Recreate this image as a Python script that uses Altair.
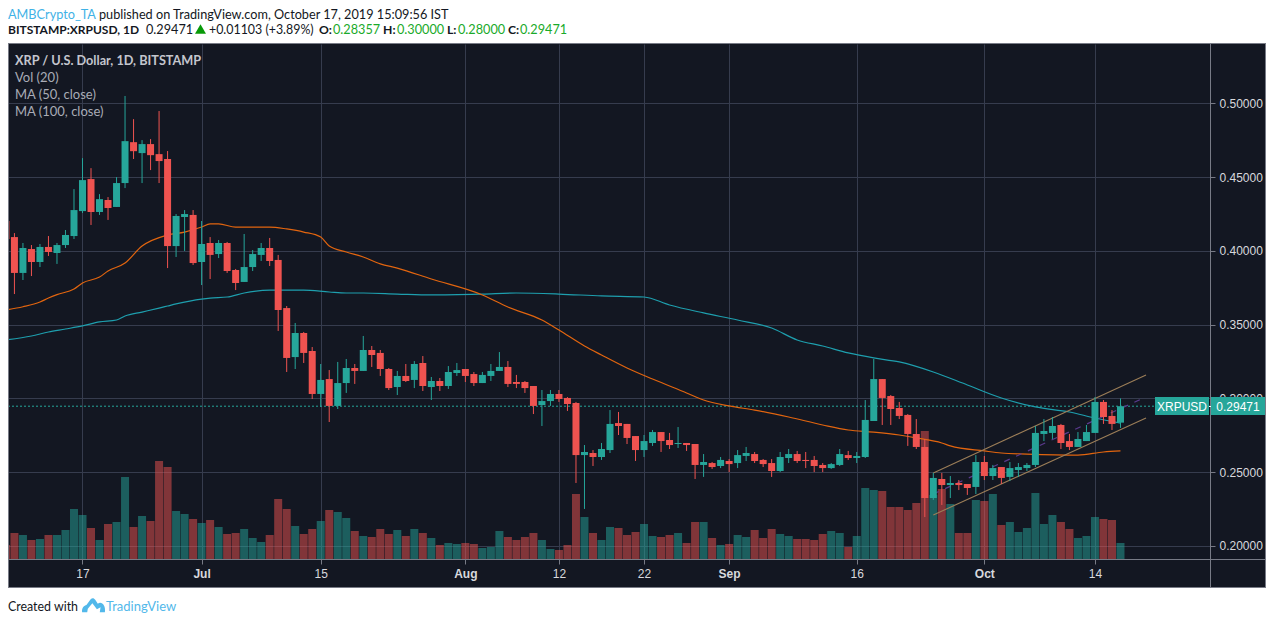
import altair as alt
import pandas as pd

# ---------- candle data, Jun 8 .. Oct 17 2019 ----------
start_date = "2019-06-08"
opens = [.4202,.4093,.3850,.4012,.3924,.4026,.3985,.4039,.4100,.4269,.4486,.4263,.4344,.4297,.4459,.4736,.4662,.4723,.4655,.4622,.4032,.4229,.4243,
 .3924,.4053,.3978,.4053,.3870,.3789,.3890,.3972,.4019,.3938,.3612,.3280,.3443,.3321,.3030,.3131,.2949,.3104,.3206,.3186,.3328,.3308,.3199,.3077,.3152,.3125,.3240,.3077,.3118,.3084,.3172,
 .3199,.3165,.3104,.3152,.3186,.3213,.3111,.3111,.3084,.2955,.2982,.3030,.3003,.2969,.2616,.2630,.2603,.2650,.2833,.2827,.2745,.2650,.2698,.2772,.2718,.2691,.2698,.2691,.2549,.2562,.2542,
 .2576,.2562,.2610,.2623,.2583,.2562,.2508,.2596,.2623,.2583,.2583,.2549,.2528,.2549,.2616,.2596,.2603,.2847,.3131,.3016,.2935,.2888,.2759,.2671,.2325,.2454,.2413,.2427,.2420,.2400,
 .2569,.2474,.2535,.2468,.2515,.2528,.2549,.2759,.2766,.2820,.2711,.2671,.2711,.2766,.2976,.2881,.28357]
highs = [.4222,.4120,.4053,.4039,.4046,.4100,.4053,.4141,.4418,.4628,.4560,.4384,.4364,.4499,.5049,.4892,.4750,.4757,.4947,.4676,.4249,.4276,.4276,
 .4202,.4093,.4073,.4060,.3877,.4114,.4005,.4053,.4087,.3972,.3626,.3511,.3450,.3348,.3233,.3192,.3247,.3267,.3233,.3423,.3355,.3328,.3206,.3186,.3233,.3253,.3287,.3145,.3138,.3219,.3240,
 .3199,.3179,.3179,.3233,.3314,.3253,.3159,.3118,.3084,.3057,.3057,.3057,.3009,.2976,.2684,.2650,.2698,.2921,.2908,.2827,.2745,.2752,.2786,.2772,.2766,.2806,.2698,.2691,.2623,.2569,.2603,
 .2589,.2650,.2671,.2637,.2589,.2589,.2637,.2657,.2644,.2637,.2610,.2562,.2562,.2657,.2644,.2637,.2989,.3267,.3131,.3023,.2976,.2894,.2860,.2725,.2495,.2495,.2474,.2447,.2420,.2616,
 .2610,.2549,.2535,.2569,.2562,.2562,.2813,.2860,.2874,.2827,.2759,.2772,.2820,.3009,.2989,.2921,.30000]
lows = [.4066,.3707,.3802,.3829,.3890,.3965,.3911,.4019,.4080,.4256,.4175,.4243,.4209,.4297,.4425,.4622,.4459,.4547,.4459,.3883,.3958,.3999,.3904,
 .3768,.3809,.3951,.3850,.3734,.3789,.3863,.3931,.3897,.3457,.3179,.3199,.3240,.2996,.2942,.2840,.2928,.3037,.3098,.3186,.3213,.3152,.3057,.3023,.3111,.3070,.3050,.2989,.3050,.3064,.3152,
 .3111,.3084,.3104,.3118,.3186,.3077,.3070,.3037,.2894,.2813,.2949,.2976,.2915,.2427,.2251,.2542,.2583,.2630,.2752,.2691,.2576,.2603,.2678,.2637,.2657,.2664,.2644,.2454,.2468,.2522,.2528,
 .2501,.2528,.2576,.2562,.2535,.2468,.2501,.2562,.2562,.2528,.2501,.2501,.2522,.2542,.2583,.2562,.2596,.2847,.2820,.2820,.2860,.2678,.2657,.2196,.2312,.2278,.2325,.2379,.2346,.2352,
 .2447,.2447,.2420,.2440,.2468,.2508,.2535,.2711,.2725,.2657,.2650,.2671,.2711,.2766,.2827,.2786,.28000]
closes = [.4080,.3850,.4019,.3924,.4026,.3992,.4039,.4107,.4276,.4479,.4263,.4350,.4290,.4459,.4743,.4675,.4723,.4648,.4608,.4032,.4236,.4249,.3917,
 .4046,.3972,.4053,.3863,.3782,.3890,.3978,.4019,.3931,.3599,.3274,.3443,.3308,.3030,.3125,.2949,.3104,.3206,.3186,.3328,.3294,.3199,.3070,.3152,.3118,.3233,.3084,.3118,.3084,.3179,.3192,
 .3152,.3104,.3159,.3186,.3213,.3098,.3098,.3070,.2949,.2982,.3030,.2996,.2962,.2616,.2637,.2603,.2657,.2827,.2813,.2732,.2650,.2711,.2772,.2711,.2684,.2698,.2684,.2549,.2569,.2535,.2583,
 .2555,.2616,.2630,.2576,.2555,.2508,.2603,.2623,.2576,.2576,.2542,.2528,.2555,.2623,.2596,.2610,.2854,.3131,.3003,.2928,.2881,.2759,.2671,.2325,.2461,.2413,.2427,.2413,.2393,.2569,
 .2474,.2528,.2461,.2528,.2535,.2549,.2766,.2779,.2813,.2698,.2671,.2725,.2772,.2976,.2874,.2827,.29471]
volumes = [14,26,24,19,20,24,24,29,50,44,31,19,35,37,82,32,43,38,98,92,48,45,40,
 36,39,32,25,26,30,21,17,24,60,50,33,25,30,38,49,47,41,28,23,22,30,25,29,23,30,26,21,14,16,15,
 16,15,11,12,28,22,19,22,26,19,10,9,14,65,42,26,19,32,31,24,27,35,23,22,24,26,16,37,37,21,14,
 15,24,22,29,21,30,25,23,20,20,19,25,28,26,12,23,71,69,68,52,52,49,56,128,64,70,55,26,26,59,
 58,65,34,37,27,31,66,35,44,37,30,21,23,42,40,39,16]

# ---------- moving averages: days after Jun 17, value ----------
ma50_days = [-9,-7,-5,-4,-3,-1,0,2,3,5,7,10,12,14,15,16,18,20,22,24,26,28,29,31,33,35,37,41,47,50,54,56,59,61,64,67,71,73,76,79,83,87,90,93,96,98,101,102,106,108,111,117,120,122]
ma50_vals = [.3599,.3621,.3653,.3680,.3703,.3741,.3782,.3822,.3863,.3917,.4032,.4107,.4127,.4161,.4182,.4182,.4161,.4161,.4161,.4148,.4127,.4093,.4032,.3992,.3958,.3911,.3883,.3809,.3701,.3619,.3531,.3463,.3355,.3294,.3206,.3131,.3037,.2989,.2949,.2921,.2874,.2820,.2786,.2772,.2752,.2732,.2698,.2678,.2644,.2630,.2623,.2616,.2637,.2644]
ma100_days = [-9,-6,-4,-2,0,2,4,5,7,9,10,11,14,15,17,19,22,26,29,31,33,37,41,47,51,56,61,66,69,73,77,81,84,87,90,93,96,100,104,108,112,116,119,122]
ma100_vals = [.3396,.3423,.3450,.3470,.3491,.3518,.3531,.3558,.3585,.3612,.3626,.3640,.3673,.3680,.3687,.3714,.3734,.3734,.3721,.3714,.3714,.3707,.3701,.3707,.3714,.3707,.3694,.3687,.3633,.3579,.3531,.3477,.3396,.3355,.3308,.3274,.3247,.3179,.3091,.3003,.2942,.2908,.2867,.2833]

# ---------- ascending channel ----------
channel_days = [100, 125]
channel_top = [.2495, .3159]
channel_mid = [.2352, .3010]
channel_low = [.2210, .2867]
last_price = 0.29471

# ---------- axis ----------
tick_dates = ["2019-06-17","2019-07-01","2019-07-15","2019-08-01","2019-08-12","2019-08-22","2019-09-01","2019-09-16","2019-10-01","2019-10-14"]
price_ticks = [.20,.25,.30,.35,.40,.45,.50]

# ---------- palette ----------
PANE = "#131722"; GRID = "#363c4e"; LINE = "#787b86"
TEAL = "#26a69a"; RED = "#ef5350"
FONT = "Lato"; AXFONT = "Liberation Sans"

W, H = 1202, 515
TOP = 36
def ms(s):
    return int(pd.Timestamp(s, tz="UTC").value // 10**6)
def day(d):
    return (pd.Timestamp("2019-06-17") + pd.Timedelta(days=d)).strftime("%Y-%m-%d")

dates = pd.date_range(start_date, periods=len(closes)).strftime("%Y-%m-%d").tolist()
candles = pd.DataFrame({"date": dates, "o": opens, "h": highs, "l": lows, "c": closes, "v": volumes})
candles["dir"] = ["up" if c >= o else "down" for o, c in zip(opens, closes)]
ma50 = pd.DataFrame({"date": [day(d) for d in ma50_days], "p": ma50_vals})
ma100 = pd.DataFrame({"date": [day(d) for d in ma100_days], "p": ma100_vals})
cd = [day(d) for d in channel_days]
chan = pd.DataFrame({"date": cd, "top": channel_top, "mid": channel_mid, "low": channel_low})

xscale = alt.Scale(type="utc", domain=[ms("2019-06-08T05:51:00"), ms("2019-10-27T12:30:00")], nice=False, padding=0)
X = alt.X("date:T", scale=xscale, title=None, axis=alt.Axis(
    values=[ms(t) for t in tick_dates], grid=True, gridColor=GRID, gridWidth=1, domain=False,
    tickColor=LINE, tickSize=5, labelPadding=4, labelColor="#d8d9dd", labelFont=AXFONT, labelFontSize=12,
    labelOverlap=False, labelFlush=False,
    labelFontWeight={"condition": {"test": "utcdate(datum.value)==1", "value": "bold"}, "value": "normal"},
    labelExpr="utcdate(datum.value)==1 ? utcFormat(datum.value,'%b') : utcFormat(datum.value,'%d')"))
pscale = alt.Scale(domain=[.19119, .54011], nice=False, zero=False)
Yaxis = alt.Axis(orient="right", values=price_ticks, format=".5f", grid=True, gridColor=GRID, gridWidth=1,
                 domain=False, tickColor=LINE, tickSize=5, labelPadding=4, labelColor="#d8d9dd",
                 labelFont=AXFONT, labelFontSize=12, labelOverlap=False, labelFlush=False)
Yp = lambda f: alt.Y(f, scale=pscale, title=None, axis=Yaxis)
dircolor = alt.Color("dir:N", scale=alt.Scale(domain=["up", "down"], range=[TEAL, RED]), legend=None)

# volume
vol = alt.Chart(candles).mark_bar(size=8, opacity=0.5).encode(
    x=X, y=alt.Y("v:Q", scale=alt.Scale(domain=[0, H], nice=False), axis=None, title=None), color=dircolor)

# price
lp = alt.Chart(pd.DataFrame({"p": [last_price]})).mark_rule(color=TEAL, strokeDash=[2, 2], strokeWidth=1).encode(y=Yp("p:Q"))
m50 = alt.Chart(ma50).mark_line(color="#e2650f", strokeWidth=1.2, interpolate="monotone").encode(x=X, y=Yp("p:Q"))
m100 = alt.Chart(ma100).mark_line(color="#1e9fae", strokeWidth=1.2, interpolate="monotone").encode(x=X, y=Yp("p:Q"))
c_top = alt.Chart(chan).mark_line(color="#9c7e58", strokeWidth=1.1).encode(x=X, y=Yp("top:Q"))
c_low = alt.Chart(chan).mark_line(color="#9c7e58", strokeWidth=1.1).encode(x=X, y=Yp("low:Q"))
c_mid = alt.Chart(chan).mark_line(color="#5b3a8e", strokeWidth=1.2, strokeDash=[6, 7]).encode(x=X, y=Yp("mid:Q"))
wick = alt.Chart(candles).mark_rule(strokeWidth=1).encode(x=X, y=Yp("l:Q"), y2="h:Q", color=dircolor)
body = alt.Chart(candles).mark_bar(size=7).encode(x=X, y=Yp("o:Q"), y2="c:Q", color=dircolor)
price = alt.layer(lp, m100, m50, c_mid, c_top, c_low, wick, body)

# ---------- decoration in page pixel coordinates ----------
one = pd.DataFrame({"a": [0]})
def px(x): return alt.value(x - 8)
def py(y): return alt.value(y - 44)
def box(x0, y0, x1, y1, color):
    return alt.Chart(one).mark_rect(color=color).encode(x=px(x0), x2=px(x1), y=py(y0), y2=py(y1))
def hline(y, x0, x1, color=LINE, w=1):
    return alt.Chart(one).mark_rule(color=color, strokeWidth=w).encode(x=px(x0), x2=px(x1), y=py(y))
def vline(x, y0, y1, color=LINE, w=1):
    return alt.Chart(one).mark_rule(color=color, strokeWidth=w).encode(x=px(x), y=py(y0), y2=py(y1))
def text(s, x, y, color="#131722", weight="normal", size=12.7, font=FONT, align="left"):
    return alt.Chart(one).mark_text(color=color, fontWeight=weight, fontSize=size, font=font, align=align,
                                    baseline="middle").encode(x=px(x), y=py(y), text=alt.value(s))

GREEN = "#1aaa2a"
logo_path = "M-1 .55 C-1.05 .15 -.8 -.05 -.62 -.08 L-.25 -.6 C-.1 -.75 .05 -.7 .15 -.55 L.38 -.2 C.7 -.45 1.1 -.05 1 .55 L.55 .55 L.62 .1 L.3 .28 L-.1 -.25 L-.5 .25 L-.55 .55 Z"
decor = [
    box(0, 8, 1274, 43, "#ffffff"),
    box(0, 588, 1274, 614, "#ffffff"),
    hline(43.5, 8, 1266), hline(587.5, 8, 1266), hline(559.5, 8, 1266),
    vline(8.5, 43, 588), vline(1265.5, 43, 588), vline(1210.5, 43, 588),
    box(1155, 397, 1209, 415, TEAL), box(1211, 397, 1265, 415, TEAL),
    hline(406.5, 1209, 1211, "#ffffff"),
    text("XRPUSD", 1182, 406.5, "#ffffff", size=12, font=AXFONT, align="center"),
    text("0.29471", 1238, 406.5, "#ffffff", size=12, font=AXFONT, align="center"),
    text("XRP / U.S. Dollar, 1D, BITSTAMP", 15, 61, "#c4c6ce", "bold"),
    text("Vol (20)", 15, 78, "#a9acb6", size=13),
    text("MA (50, close)", 15, 95, "#a9acb6", size=13),
    text("MA (100, close)", 15, 112, "#a9acb6", size=13),
    text("AMBCrypto_TA", 8, 14.5, "#3fb2e6"),
    text("published on TradingView.com, October 17, 2019 15:09:56 IST", 99, 14.5),
    text("BITSTAMP:XRPUSD, 1D", 8, 30, weight="bold", size=12),
    text("0.29471", 146, 30),
    alt.Chart(one).mark_point(shape="triangle-up", filled=True, color="#089a08", size=120, opacity=1).encode(x=px(200.5), y=py(29)),
    text("+0.01103 (+3.89%)", 209, 30, size=12.4),
    text("O:", 319, 30, weight="bold", size=12.2), text("0.28357", 333, 30, GREEN),
    text("H:", 383, 30, weight="bold", size=12.2), text("0.30000", 397, 30, GREEN),
    text("L:", 447, 30, weight="bold", size=12.2), text("0.28000", 458, 30, GREEN),
    text("C:", 508, 30, weight="bold", size=12.2), text("0.29471", 520, 30, GREEN),
    text("Created with", 8, 607, size=12.4),
    alt.Chart(one).mark_point(shape=logo_path, filled=True, color="#52b8ea", size=520, opacity=1).encode(x=px(93.5), y=py(606)),
    text("TradingView", 106, 607, "#52b8ea", size=13),
]

chart = alt.layer(vol, price, *decor).resolve_scale(y="independent").properties(
    width=W, height=H, background=PANE,
    padding={"left": 0, "top": TOP, "right": 56, "bottom": 55},
    autosize=alt.AutoSizeParams(type="none"),
).configure_view(stroke=None)

chart.save("out.html", embed_options={"renderer": "svg", "actions": False})
